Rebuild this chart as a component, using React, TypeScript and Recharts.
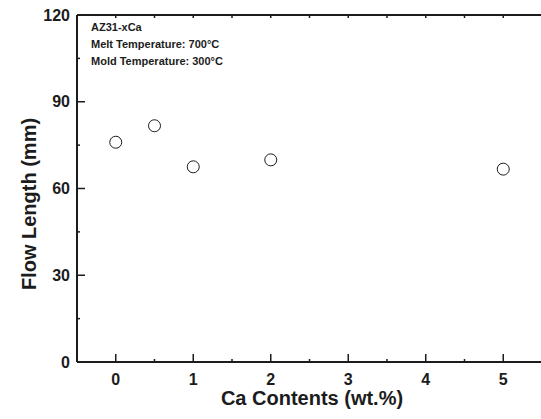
import { ReferenceLine, Scatter, ScatterChart, XAxis, YAxis } from "recharts";

const caContents = [0, 0.5, 1, 2, 5];
const flowLength = [76, 81.7, 67.5, 69.9, 66.7];
const xTicks = [0, 0.5, 1, 1.5, 2, 2.5, 3, 3.5, 4, 4.5, 5];
const xLabels = [0, 1, 2, 3, 4, 5];
const yTicks = [0, 15, 30, 45, 60, 75, 90, 105, 120];
const yLabels = [0, 30, 60, 90, 120];
const notes = ["AZ31-xCa", "Melt Temperature: 700°C", "Mold Temperature: 300°C"];

const data = caContents.map((x, i) => ({ x, y: flowLength[i] }));

const INK = "#1c1c1c";
const FONT = "'Liberation Sans', Arial, Helvetica, sans-serif";
const TOP = 15;
const X_MARGIN = 12;
const Y_MARGIN = 7;

// bottom tick: inward tick line, label on integers, plus the matching tick on the top frame
function BottomTick({ x, y, payload }: any) {
  const v = payload.value;
  const major = xLabels.includes(v);
  const axisY = y - X_MARGIN;
  return (
    <g>
      <line x1={x} x2={x} y1={axisY} y2={axisY - (major ? 8 : 3)} stroke={INK} strokeWidth={1.5} />
      <line x1={x} x2={x} y1={TOP} y2={TOP + 3} stroke={INK} strokeWidth={1.5} />
      {major && (
        <text x={x} y={y} dy="0.71em" textAnchor="middle" fontFamily={FONT} fontWeight="bold" fontSize={16} fill={INK}>
          {v}
        </text>
      )}
    </g>
  );
}

function LeftTick({ x, y, payload }: any) {
  const v = payload.value;
  const major = yLabels.includes(v);
  const axisX = x + Y_MARGIN;
  return (
    <g>
      <line x1={axisX} x2={axisX + (major ? 8 : 3)} y1={y} y2={y} stroke={INK} strokeWidth={1.5} />
      {major && (
        <text x={x} y={y} dy="0.355em" textAnchor="end" fontFamily={FONT} fontWeight="bold" fontSize={16} fill={INK}>
          {v}
        </text>
      )}
    </g>
  );
}

function Ring({ cx, cy }: any) {
  return <circle cx={cx} cy={cy} r={6} fill="#fff" stroke={INK} strokeWidth={1} />;
}

const titleStyle = {
  position: "absolute" as const,
  fontFamily: FONT,
  fontWeight: "bold" as const,
  fontSize: 20,
  color: INK,
  whiteSpace: "nowrap" as const,
  lineHeight: "24px",
};

export default function App() {
  return (
    <div style={{ position: "absolute", left: 0, top: 0, width: 541, height: 419, overflow: "hidden", background: "#fff" }}>
      <ScatterChart width={552} height={419} margin={{ top: TOP, right: 10, bottom: 0, left: 0 }}>
        <XAxis
          type="number"
          dataKey="x"
          domain={[-0.5, 5.5]}
          ticks={xTicks}
          interval={0}
          height={57}
          tickSize={0}
          tickMargin={X_MARGIN}
          tickLine={false}
          tick={<BottomTick />}
          axisLine={{ stroke: INK, strokeWidth: 2 }}
        />
        <YAxis
          type="number"
          dataKey="y"
          domain={[0, 120]}
          ticks={yTicks}
          interval={0}
          width={77}
          tickSize={0}
          tickMargin={Y_MARGIN}
          tickLine={false}
          tick={<LeftTick />}
          axisLine={{ stroke: INK, strokeWidth: 2 }}
        />
        <ReferenceLine y={120} stroke={INK} strokeWidth={2} ifOverflow="visible" />
        <Scatter data={data} shape={<Ring />} isAnimationActive={false} />
      </ScatterChart>
      <div style={{ ...titleStyle, left: 212, top: 386, width: 200, textAlign: "center" }}>Ca Contents (wt.%)</div>
      <div
        style={{
          ...titleStyle,
          left: 17 - 100 + 12,
          top: 204 - 12,
          width: 200,
          textAlign: "center",
          transform: "rotate(-90deg)",
        }}
      >
        Flow Length (mm)
      </div>
      <div style={{ position: "absolute", left: 91, top: 19, fontFamily: FONT, fontWeight: "bold", fontSize: 11, color: INK, lineHeight: "17px" }}>
        {notes.map((n) => (
          <div key={n}>{n}</div>
        ))}
      </div>
    </div>
  );
}
